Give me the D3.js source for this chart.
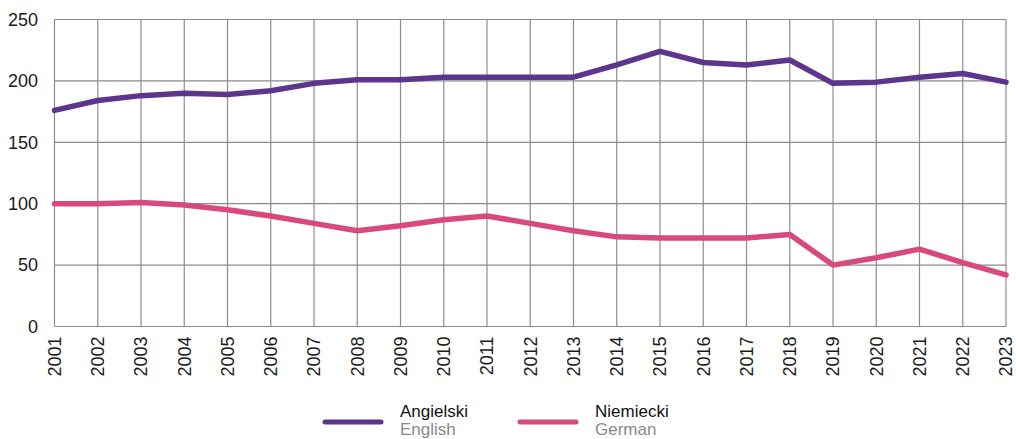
<!DOCTYPE html>
<html>
<head>
<meta charset="utf-8">
<script src="https://cdn.jsdelivr.net/npm/d3@7"></script>
<style>
  html, body { margin: 0; padding: 0; background: #fff; }
  svg { display: block; font-family: "Liberation Sans", Arial, sans-serif; }
</style>
</head>
<body>
<svg id="chart" width="1016" height="439"></svg>
<script>
// Student counts by foreign language, 2001–2023
const years = d3.range(2001, 2024).map(String);
const english = [176, 184, 188, 190, 189, 192, 198, 201, 201, 203, 203, 203, 203, 213, 224, 215, 213, 217, 198, 199, 203, 206, 199];
const german  = [100, 100, 101, 99, 95, 90, 84, 78, 82, 87, 90, 84, 78, 73, 72, 72, 72, 75, 50, 56, 63, 52, 42];
const yTicks = [0, 50, 100, 150, 200, 250];

const series = [
  { pl: "Angielski", en: "English", values: english, color: "#5e358c" },
  { pl: "Niemiecki", en: "German",  values: german,  color: "#d84a7e" }
];

const svg = d3.select("#chart");
const m = { left: 54.5, right: 1006, top: 19.5, bottom: 326.5 };

const x = d3.scalePoint().domain(years).range([m.left, m.right]);
const y = d3.scaleLinear().domain([0, 250]).range([m.bottom, m.top]);

const grid = svg.append("g").attr("stroke", "#8c8c8c").attr("stroke-width", 1.2);

// horizontal gridlines
grid.selectAll("line.h").data(yTicks).join("line")
  .attr("x1", m.left).attr("x2", m.right)
  .attr("y1", d => y(d)).attr("y2", d => y(d));

// vertical gridlines, one per year
grid.selectAll("line.v").data(years).join("line")
  .attr("x1", d => x(d)).attr("x2", d => x(d))
  .attr("y1", m.top).attr("y2", m.bottom);

// y axis labels
svg.append("g").selectAll("text").data(yTicks).join("text")
  .attr("x", 38).attr("y", d => y(d))
  .attr("dy", "0.35em")
  .attr("text-anchor", "end")
  .attr("font-size", 18)
  .attr("fill", "#1a1a1a")
  .text(d => d);

// x axis labels, rotated
svg.append("g").selectAll("text").data(years).join("text")
  .attr("transform", d => `translate(${x(d)},${m.bottom + 10}) rotate(-90)`)
  .attr("dy", "0.35em")
  .attr("text-anchor", "end")
  .attr("font-size", 18)
  .attr("fill", "#1a1a1a")
  .text(d => d);

// series lines
const line = d3.line().x((d, i) => x(years[i])).y(d => y(d));
svg.append("g").selectAll("path").data(series).join("path")
  .attr("d", s => line(s.values))
  .attr("fill", "none")
  .attr("stroke", s => s.color)
  .attr("stroke-width", 5.5)
  .attr("stroke-linejoin", "round")
  .attr("stroke-linecap", "round");

// legend
const legend = svg.append("g").selectAll("g").data(series).join("g")
  .attr("transform", (s, i) => `translate(${325 + i * 195},0)`);
legend.append("line")
  .attr("x1", 0).attr("x2", 56).attr("y1", 422).attr("y2", 422)
  .attr("stroke", s => s.color).attr("stroke-width", 5).attr("stroke-linecap", "round");
legend.append("text")
  .attr("x", 75).attr("y", 417)
  .attr("font-size", 17).attr("fill", "#111")
  .text(s => s.pl);
legend.append("text")
  .attr("x", 75).attr("y", 435)
  .attr("font-size", 17).attr("fill", "#8a8a8a")
  .text(s => s.en);
</script>
</body>
</html>
